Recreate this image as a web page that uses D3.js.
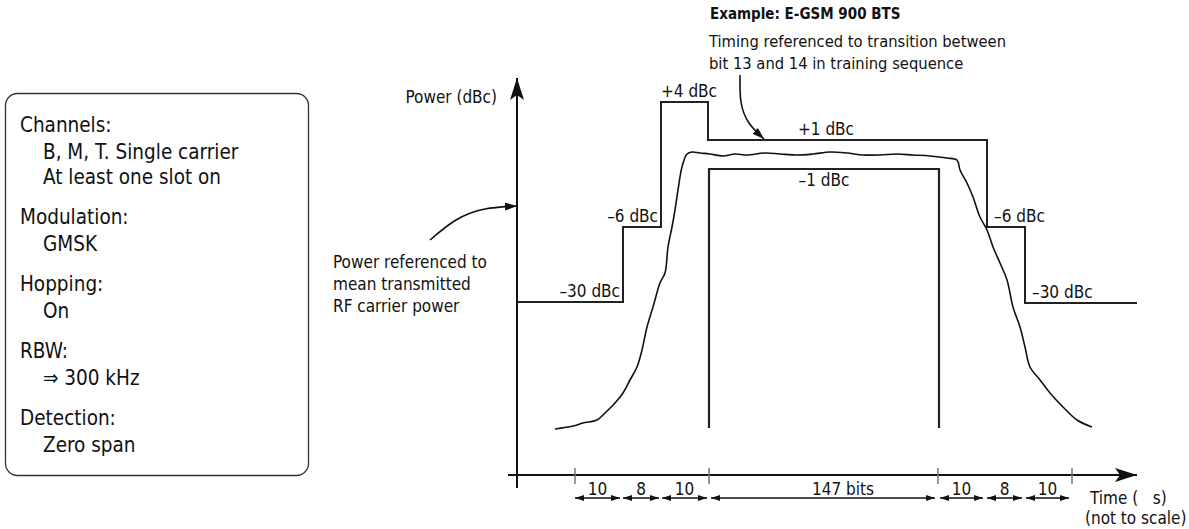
<!DOCTYPE html>
<html>
<head>
<meta charset="utf-8">
<script src="https://cdn.jsdelivr.net/npm/d3@7"></script>
<style>
  body { margin: 0; background: #fff; }
  svg text { font-family: "Liberation Sans Narrow", "DejaVu Sans Condensed", "Liberation Sans", sans-serif; fill: #111; white-space: pre; }
</style>
</head>
<body>
<div id="main"></div>
<script>
// chart size
const width = 1189;
const height = 529;

// burst mask, upper limit (time units, level units -- not to scale)
const maskUpper = [[0,173],[106,173],[106,248],[144,248],[144,373],[191,373],[191,335],[470,335],[470,248],[508,248],[508,172],[620,172]];
const maskLabels = ["\u201330 dBc","\u20136 dBc","+4 dBc","+1 dBc","\u20136 dBc","\u201330 dBc"];
// lower limit (-1 dBc) over the useful part
const maskLower = [[192,47],[192,306],[422,306],[422,47]];
const lowerLabel = "\u20131 dBc";

// measured power envelope
const envelope = [[38,46],[56,49],[66,52],[80,55],[88,62],[98,72],[106,82],[113,95],[120,108],[125,125],[130,148],[136,168],[143,192],[148,202],[151,228],[155,248],[158,265],[161,285],[165,308],[170,321],[175,323],[183,322],[193,321],[206,319],[218,321],[230,320],[248,322],[263,321],[280,320],[296,321],[313,323],[330,322],[346,320],[363,320],[380,321],[396,320],[413,319],[430,317],[440,315],[443,305],[450,292],[456,278],[463,258],[470,245],[476,228],[483,212],[490,195],[496,168],[503,148],[508,128],[513,108],[523,95],[533,82],[546,68],[560,55],[575,48]];

// time ticks and bit periods
const timeTicks = [58,192,421,555];
const periodLabels = ["10","8","10","147 bits","10","8","10"];
const periodFrom = [58,106,145,194,423,470,509];
const periodTo = [103,142,190,418,466,505,552];

// measurement settings box
const settingHeads = ["Channels:","Modulation:","Hopping:","RBW:","Detection:"];
const settingValues = [["B, M, T. Single carrier","At least one slot on"],["GMSK"],["On"],["\u21d2 300 kHz"],["Zero span"]];

const svg = d3.select('#main').append('svg')
  .attr('width', width).attr('height', height);

const defs = svg.append('defs');
defs.append('marker').attr('id','head').attr('viewBox','0 0 12 8')
  .attr('refX', 12).attr('refY', 4).attr('markerWidth', 12).attr('markerHeight', 8)
  .attr('markerUnits','userSpaceOnUse').attr('orient','auto-start-reverse')
  .append('path').attr('d','M0,0 L12,4 L0,8 Z').attr('fill','#111');
defs.append('marker').attr('id','small').attr('viewBox','0 0 9 6')
  .attr('refX', 9).attr('refY', 3).attr('markerWidth', 9).attr('markerHeight', 6)
  .attr('markerUnits','userSpaceOnUse').attr('orient','auto-start-reverse')
  .append('path').attr('d','M0,0 L9,3 L0,6 Z').attr('fill','#111');
defs.append('marker').attr('id','big').attr('viewBox','0 0 22 14')
  .attr('refX', 22).attr('refY', 7).attr('markerWidth', 22).attr('markerHeight', 14)
  .attr('markerUnits','userSpaceOnUse').attr('orient','auto')
  .append('path').attr('d','M0,0 L22,7 L0,14 L5,7 Z').attr('fill','#111');

// scales (arbitrary units, drawing is not to scale)
const x = d3.scaleLinear().domain([0, 620]).range([517, 1137]);
const y = d3.scaleLinear().domain([0, 400]).range([475, 75]);
const line = d3.line().x(d => x(d[0])).y(d => y(d[1]));

// axes
svg.append('line').attr('x1', x(0)).attr('x2', x(0)).attr('y1', y(-13)).attr('y2', y(397))
  .attr('stroke','#111').attr('stroke-width', 2).attr('marker-end','url(#big)');
svg.append('line').attr('x1', x(-9)).attr('x2', x(620)).attr('y1', y(0)).attr('y2', y(0))
  .attr('stroke','#111').attr('stroke-width', 2).attr('marker-end','url(#big)');

svg.append('g').selectAll('line').data(timeTicks).enter().append('line')
  .attr('x1', d => x(d)).attr('x2', d => x(d)).attr('y1', y(7)).attr('y2', y(-9))
  .attr('stroke','#777').attr('stroke-width', 1.5);

// mask lines
svg.append('path').attr('d', line(maskUpper)).attr('fill','none')
  .attr('stroke','#222').attr('stroke-width', 2);
svg.append('path').attr('d', line(maskLower)).attr('fill','none')
  .attr('stroke','#222').attr('stroke-width', 2.2);

// envelope
svg.append('path').attr('d', line.curve(d3.curveCatmullRom)(envelope)).attr('fill','none')
  .attr('stroke','#111').attr('stroke-width', 1.6);
line.curve(d3.curveLinear);

// mask level labels
const segs = maskLabels.map((t, i) => ({text: t, a: maskUpper[2*i], b: maskUpper[2*i+1]}));
const anchors = ["end","end","start","middle","start","start"];
svg.append('g').selectAll('text').data(segs).enter().append('text')
  .attr('x', (d, i) => anchors[i] === "end" ? x(d.b[0]) - 3 :
                      anchors[i] === "middle" ? x((maskLower[1][0] + maskLower[2][0]) / 2) + 2 :
                      x(d.a[0]) + (i === 2 ? 0 : 7))
  .attr('y', d => y(d.a[1]) - 5)
  .attr('text-anchor', (d, i) => anchors[i])
  .style('font-size','17px')
  .text(d => d.text);
svg.append('text').attr('x', x((maskLower[1][0] + maskLower[2][0]) / 2))
  .attr('y', y(maskLower[1][1]) + 17).attr('text-anchor','middle')
  .style('font-size','17px').text(lowerLabel);

// bit periods
const periods = periodLabels.map((t, i) => ({text: t, from: periodFrom[i], to: periodTo[i]}));
const pg = svg.append('g');
pg.selectAll('line').data(periods).enter().append('line')
  .attr('x1', d => x(d.from)).attr('x2', d => x(d.to)).attr('y1', y(-23)).attr('y2', y(-23))
  .attr('stroke','#111').attr('stroke-width', 1.5)
  .attr('marker-start','url(#small)').attr('marker-end','url(#small)');
pg.selectAll('text').data(periods).enter().append('text')
  .attr('x', d => x((d.from + d.to) / 2) + (d.text.length > 3 ? 20 : 0)).attr('y', y(-20))
  .attr('text-anchor','middle').style('font-size','17px')
  .text(d => d.text);

// axis titles
svg.append('text').attr('x', x(-20)).attr('y', 103).attr('text-anchor','end')
  .style('font-size','17px').text('Power (dBc)');
svg.append('text').attr('x', 1090).attr('y', 504).style('font-size','17px').text('Time (   s)');
svg.append('text').attr('x', 1085).attr('y', 524).style('font-size','17px').text('(not to scale)');

// annotations
const curve = d3.line().curve(d3.curveNatural);
svg.append('path').attr('d', curve([[430,240],[456,220],[485,209],[517,206]]))
  .attr('fill','none').attr('stroke','#111').attr('stroke-width', 1.6).attr('marker-end','url(#head)');
['Power referenced to','mean transmitted','RF carrier power'].forEach((t, i) => {
  svg.append('text').attr('x', 333).attr('y', 268 + i * 22).style('font-size','17px').text(t);
});

svg.append('text').attr('x', 710).attr('y', 19).style('font-size','15px')
  .style('font-weight','bold').text('Example: E-GSM 900 BTS');
svg.append('text').attr('x', 709).attr('y', 47).style('font-size','16.4px')
  .text('Timing referenced to transition between');
svg.append('text').attr('x', 709).attr('y', 69).style('font-size','16.4px')
  .text('bit 13 and 14 in training sequence');
svg.append('path').attr('d', curve([[740,75],[741,102],[749,123],[764,139]]))
  .attr('fill','none').attr('stroke','#111').attr('stroke-width', 1.6).attr('marker-end','url(#head)');

// settings box
svg.append('rect').attr('x', 5.5).attr('y', 93.5).attr('width', 303).attr('height', 382)
  .attr('rx', 12).attr('fill','none').attr('stroke','#333').attr('stroke-width', 1.3);
let yy = 132;
const box = svg.append('g');
settingHeads.forEach((h, i) => {
  box.append('text').attr('x', 20).attr('y', yy).style('font-size','20.5px').text(h);
  yy += 27;
  settingValues[i].forEach((v, j) => {
    box.append('text').attr('x', 43).attr('y', yy).style('font-size','20.5px').text(v);
    yy += (j < settingValues[i].length - 1) ? 25 : 40;
  });
});
</script>
</body>
</html>
